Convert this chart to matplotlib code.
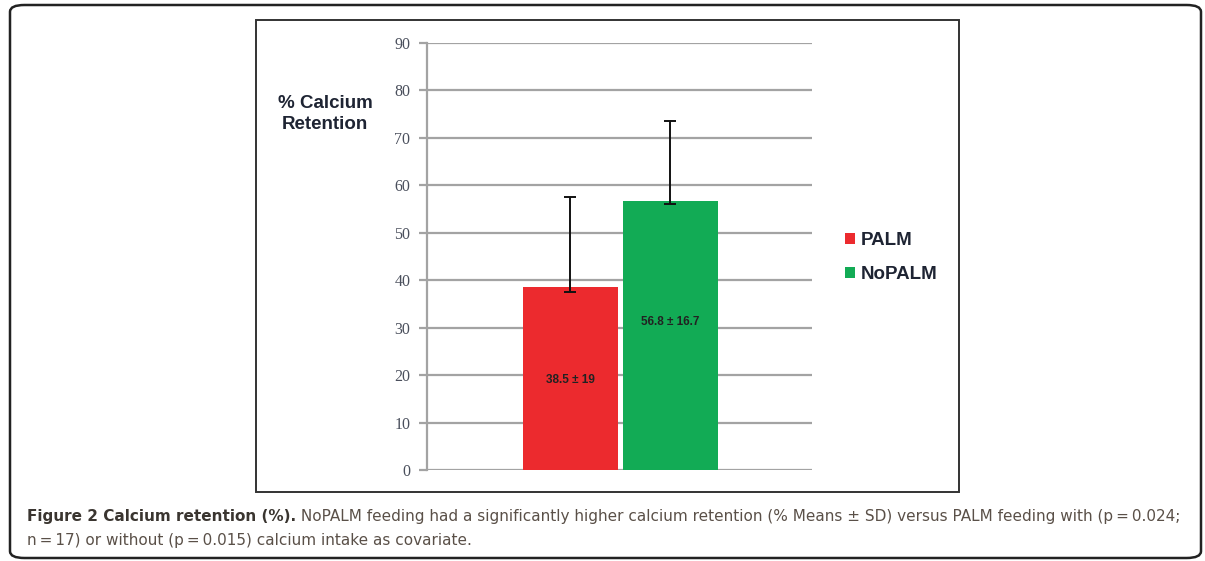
import matplotlib
matplotlib.use("Agg")
import matplotlib.pyplot as plt
from matplotlib.patches import FancyBboxPatch, Rectangle, Patch
from matplotlib import font_manager
import numpy as np

# ---- data ----
groups = ["PALM", "NoPALM"]
means = [38.5, 56.8]
sd_upper = [19.0, 16.7]
err_lower = [1.0, 0.8]
bar_labels = ["38.5 \u00b1 19", "56.8 \u00b1 16.7"]
yticks = [0, 10, 20, 30, 40, 50, 60, 70, 80, 90]
ylabel = "% Calcium\nRetention"
caption_bold = "Figure 2 Calcium retention (%)."
caption_rest1 = " NoPALM feeding had a significantly higher calcium retention (% Means \u00b1 SD) versus PALM feeding with (p\u2009=\u20090.024;"
caption_line2 = "n\u2009=\u200917) or without (p\u2009=\u20090.015) calcium intake as covariate."
colors = ["#EC2A2E", "#12AB55"]

W, H = 1205, 561
fig = plt.figure(figsize=(W / 100, H / 100), dpi=100)

def fx(px):
    return px / W

def fy(py):
    return 1 - py / H

# outer rounded frame
outer = FancyBboxPatch((fx(10), fy(558)), fx(1201) - fx(10), fy(5) - fy(558),
                       boxstyle="round,pad=0,rounding_size=0.012",
                       transform=fig.transFigure, fill=False, ec="#222222", lw=1.8)
fig.add_artist(outer)
# inner chart box
inner = Rectangle((fx(256), fy(492)), fx(959) - fx(256), fy(20) - fy(492),
                  transform=fig.transFigure, fill=False, ec="#333333", lw=1.4)
fig.add_artist(inner)

ax = fig.add_axes([fx(427), fy(470), fx(812) - fx(427), fy(43) - fy(470)])
x = np.arange(len(groups))
width = 0.95
bars = ax.bar(x, means, width=width, color=colors, zorder=3)
ax.errorbar(x, means, yerr=[err_lower, sd_upper], fmt="none", ecolor="#111111",
            elinewidth=1.4, capsize=4, capthick=1.4, zorder=4)
ax.set_xlim(-1.43, 2.42)
ax.set_ylim(0, 90)
ax.set_yticks(yticks)
ax.set_xticks([])
ax.yaxis.grid(True, color="#a3a3a3", lw=1.6, zorder=0)
ax.set_axisbelow(True)
for s in ["top", "right", "bottom"]:
    ax.spines[s].set_visible(False)
ax.spines["left"].set_color("#a3a3a3")
ax.spines["left"].set_linewidth(1.6)
ax.tick_params(axis="y", length=6, width=1.6, color="#a3a3a3", pad=6,
               labelsize=11.5, labelcolor="#4a4f5c")
for t in ax.get_yticklabels():
    t.set_family("Liberation Serif")

label_frac = [0.49, 0.55]
for xi, m, lab, fr in zip(x, means, bar_labels, label_frac):
    ax.text(xi, m * fr, lab, ha="center", va="center", fontsize=8.5,
            fontweight="bold", color="#222222", family="Liberation Sans", zorder=5)

fig.text(fx(325), fy(114), ylabel, ha="center", va="center", fontsize=13.5,
         fontweight="bold", color="#1e2433", family="Liberation Sans",
         linespacing=1.3)

handles = [Patch(facecolor=c, edgecolor="none") for c in colors]
fig.legend(handles, groups, loc="upper left", bbox_to_anchor=(fx(828), fy(215)),
           frameon=False, handlelength=0.55, handleheight=0.55, handletextpad=0.3,
           labelspacing=0.92, prop={"family": "Liberation Sans", "weight": "bold", "size": 13.5},
           labelcolor="#1e2433")

# caption
avail = {f.name for f in font_manager.fontManager.ttflist}
cap_font = "Liberation Sans Narrow" if "Liberation Sans Narrow" in avail else "DejaVu Sans"
cap_size = 10.5
fig.canvas.draw()
r = fig.canvas.get_renderer()
tb = fig.text(fx(27), fy(521), caption_bold, fontsize=cap_size, fontweight="bold",
              color="#3a3530", family=cap_font, va="baseline")
bb = tb.get_window_extent(r)
tr = fig.text(bb.x1 / W, fy(521), caption_rest1, fontsize=cap_size,
              color="#5a5048", family=[cap_font, "DejaVu Sans"], va="baseline")
bb2 = tr.get_window_extent(r)
total = bb2.x1 - bb.x0
target = 1185 - 27
scale = target / total
if abs(scale - 1) > 0.01:
    new = cap_size * scale
    tb.set_fontsize(new)
    fig.canvas.draw()
    bb = tb.get_window_extent(r)
    tr.set_position((bb.x1 / W, fy(521)))
    tr.set_fontsize(new)
    cap_size = new
fig.text(fx(27), fy(545), caption_line2, fontsize=cap_size, color="#5a5048",
         family=[cap_font, "DejaVu Sans"], va="baseline")

fig.savefig("out.png", dpi=100)
